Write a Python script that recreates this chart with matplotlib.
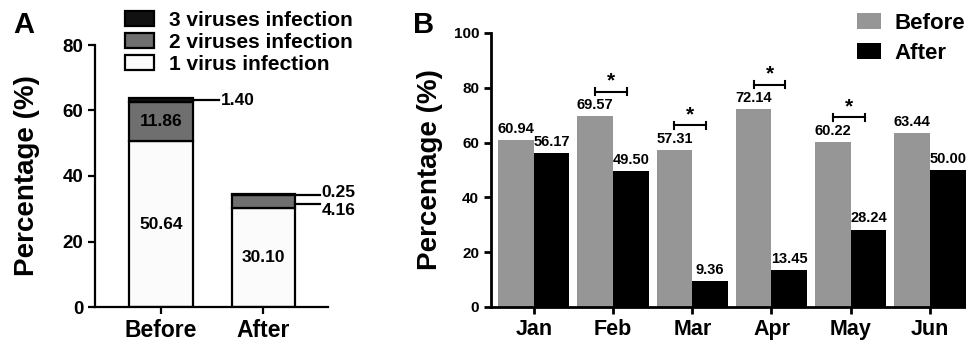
import numpy as np
import matplotlib
matplotlib.use("Agg")
import matplotlib.pyplot as plt
from matplotlib.patches import Patch

plt.rcParams['font.family'] = ['Liberation Sans', 'DejaVu Sans']
plt.rcParams['font.weight'] = 'bold'

# Panel A data
groups = ["Before", "After"]
one_virus = [50.64, 30.10]
two_virus = [11.86, 4.16]
three_virus = [1.40, 0.25]

# Panel B data
months = ["Jan", "Feb", "Mar", "Apr", "May", "Jun"]
before = [60.94, 69.57, 57.31, 72.14, 60.22, 63.44]
after = [56.17, 49.50, 9.36, 13.45, 28.24, 50.00]
signif = [False, True, True, True, True, False]

W, H = 966, 343
fig = plt.figure(figsize=(W / 100, H / 100), dpi=100)

def px_axes(l, r, t, b):
    return fig.add_axes([l / W, 1 - b / H, (r - l) / W, (b - t) / H])

# ---------------- Panel A ----------------
axA = px_axes(95, 328, 45, 307)
xa = np.arange(len(groups))
bw = 0.62
c1, c2, c3 = '#fbfbfb', '#6f6f6f', '#111111'
b1 = np.array(one_virus)
b2 = b1 + np.array(two_virus)
axA.bar(xa, one_virus, bw, color=c1, edgecolor='black', linewidth=1.6, zorder=2)
axA.bar(xa, two_virus, bw, bottom=b1, color=c2, edgecolor='black', linewidth=1.6, zorder=2)
axA.bar(xa, three_virus, bw, bottom=b2, color=c3, edgecolor='black', linewidth=1.6, zorder=2)

axA.set_xlim(-0.64, 1.63)
axA.set_ylim(0, 80)
axA.set_yticks(np.arange(0, 81, 20))
axA.set_xticks(xa)
axA.set_xticklabels(groups)
for s in ['top', 'right']:
    axA.spines[s].set_visible(False)
for s in ['left', 'bottom']:
    axA.spines[s].set_linewidth(1.6)
axA.tick_params(axis='both', width=1.6, length=5)
axA.tick_params(axis='y', labelsize=13.5)
axA.tick_params(axis='x', labelsize=16.5)
for lab in axA.get_yticklabels() + axA.get_xticklabels():
    lab.set_fontweight('bold')
axA.set_ylabel("Percentage (%)", fontsize=20, fontweight='bold')
axA.yaxis.set_label_coords(-0.236, 0.5)

# inside labels
for i in range(2):
    axA.text(xa[i], one_virus[i] / 2, f"{one_virus[i]:.2f}", ha='center', va='center',
             fontsize=12.5, fontweight='bold', zorder=3)
axA.text(xa[0], b1[0] + two_virus[0] / 2, f"{two_virus[0]:.2f}", ha='center', va='center',
         fontsize=12.5, fontweight='bold', zorder=3)

# side labels with leader lines
edge0 = xa[0] + bw / 2
axA.plot([edge0, edge0 + 0.26], [63.2, 63.2], color='black', lw=1.6, clip_on=False)
axA.text(edge0 + 0.28, 63.2, f"{three_virus[0]:.2f}", ha='left', va='center',
         fontsize=12.5, fontweight='bold')
edge1 = xa[1] + bw / 2
axA.plot([edge1, edge1 + 0.24], [34.3, 34.3], color='black', lw=1.6, clip_on=False)
axA.plot([edge1, edge1 + 0.24], [31.6, 31.6], color='black', lw=1.6, clip_on=False)
axA.text(edge1 + 0.26, 35.0, f"{three_virus[1]:.2f}", ha='left', va='center',
         fontsize=12.5, fontweight='bold')
axA.text(edge1 + 0.26, 29.4, f"{two_virus[1]:.2f}", ha='left', va='center',
         fontsize=12.5, fontweight='bold')

handlesA = [Patch(facecolor=c3, edgecolor='black', linewidth=1.6, label='3 viruses infection'),
            Patch(facecolor=c2, edgecolor='black', linewidth=1.6, label='2 viruses infection'),
            Patch(facecolor=c1, edgecolor='black', linewidth=1.6, label='1 virus infection')]
fig.legend(handles=handlesA, loc='upper left', bbox_to_anchor=(125 / W, 1 - 11 / H),
           frameon=False, handlelength=1.4, handleheight=0.7,
           handletextpad=0.7, labelspacing=0.14, borderpad=0, borderaxespad=0,
           prop={'weight': 'bold', 'size': 15})

fig.text(13 / W, 1 - 11 / H, "A", fontsize=21, fontweight='bold', va='top', ha='left')

# ---------------- Panel B ----------------
axB = px_axes(491, 966, 33, 307)
xb = np.arange(len(months))
w = 0.45
axB.bar(xb - w / 2, before, w, color='#969696', zorder=2)
axB.bar(xb + w / 2, after, w, color='black', zorder=2)

axB.set_xlim(-0.54, 5.455)
axB.set_ylim(0, 100)
axB.set_yticks(np.arange(0, 101, 20))
axB.set_xticks(xb)
axB.set_xticklabels(months)
for s in ['top', 'right']:
    axB.spines[s].set_visible(False)
for s in ['left', 'bottom']:
    axB.spines[s].set_linewidth(2)
axB.tick_params(axis='both', width=2, length=5)
axB.tick_params(axis='y', labelsize=11)
axB.tick_params(axis='x', labelsize=15.5)
for lab in axB.get_yticklabels() + axB.get_xticklabels():
    lab.set_fontweight('bold')
axB.set_ylabel("Percentage (%)", fontsize=20, fontweight='bold')
axB.yaxis.set_label_coords(-0.101, 0.5)

for i in range(len(months)):
    axB.annotate(f"{before[i]:.2f}", (xb[i] - w / 2, before[i]), xytext=(0, 3),
                 textcoords='offset points', ha='center', va='bottom',
                 fontsize=10.5, fontweight='bold')
    axB.annotate(f"{after[i]:.2f}", (xb[i] + w / 2, after[i]), xytext=(0, 3),
                 textcoords='offset points', ha='center', va='bottom',
                 fontsize=10.5, fontweight='bold')
    if signif[i]:
        yb = before[i] + 9
        x0, x1 = xb[i] - w / 2, xb[i] + w / 2 - 0.05
        axB.plot([x0, x1], [yb, yb], color='black', lw=1.5)
        axB.plot([x0, x0], [yb - 1.2, yb + 1.2], color='black', lw=1.5)
        axB.plot([x1, x1], [yb - 1.2, yb + 1.2], color='black', lw=1.5)
        axB.text((x0 + x1) / 2, yb + 0.5, "*", ha='center', va='bottom',
                 fontsize=15, fontweight='bold')

handlesB = [Patch(facecolor='#969696', label='Before'),
            Patch(facecolor='black', label='After')]
fig.legend(handles=handlesB, loc='upper left', bbox_to_anchor=(857 / W, 1 - 13 / H),
           frameon=False, handlelength=1.1, handleheight=0.75, handletextpad=0.6,
           labelspacing=0.4, borderpad=0, borderaxespad=0,
           prop={'weight': 'bold', 'size': 16})

fig.text(413 / W, 1 - 11 / H, "B", fontsize=21, fontweight='bold', va='top', ha='left')

fig.savefig("out.png", dpi=100)
